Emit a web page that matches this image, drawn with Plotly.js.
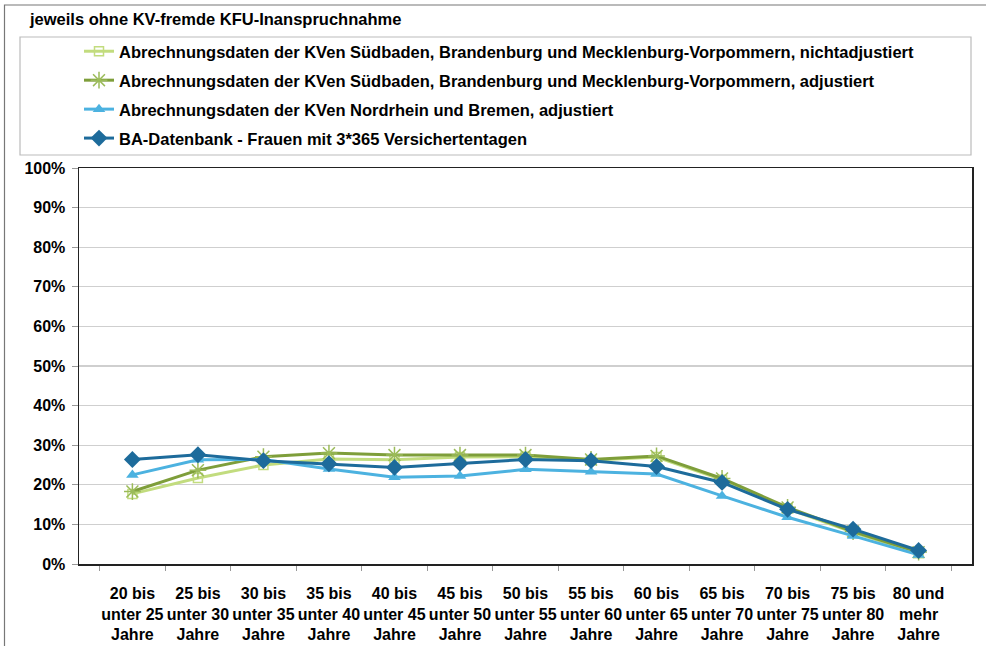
<!DOCTYPE html>
<html>
<head>
<meta charset="utf-8">
<script src="https://cdn.plot.ly/plotly-3.0.1.min.js"></script>
<style>html,body{margin:0;padding:0;background:#fff;}#chart{width:986px;height:646px;}</style>
</head>
<body>
<div id="chart"></div>
<script>
const categories = [
  "20 bis<br>unter 25<br>Jahre", "25 bis<br>unter 30<br>Jahre", "30 bis<br>unter 35<br>Jahre",
  "35 bis<br>unter 40<br>Jahre", "40 bis<br>unter 45<br>Jahre", "45 bis<br>unter 50<br>Jahre",
  "50 bis<br>unter 55<br>Jahre", "55 bis<br>unter 60<br>Jahre", "60 bis<br>unter 65<br>Jahre",
  "65 bis<br>unter 70<br>Jahre", "70 bis<br>unter 75<br>Jahre", "75 bis<br>unter 80<br>Jahre",
  "80 und<br>mehr<br>Jahre"
];
const nameNichtAdj = "Abrechnungsdaten der KVen Südbaden, Brandenburg und Mecklenburg-Vorpommern, nichtadjustiert";
const nameAdj = "Abrechnungsdaten der KVen Südbaden, Brandenburg und Mecklenburg-Vorpommern, adjustiert";
const nameNR = "Abrechnungsdaten der KVen Nordrhein und Bremen, adjustiert";
const nameBA = "BA-Datenbank - Frauen mit 3*365 Versichertentagen";

const valuesNichtAdj = [17.7, 21.7, 25.0, 26.5, 26.3, 27.0, 27.1, 26.2, 27.0, 21.3, 14.0, 8.0, 2.7];
const valuesAdj      = [18.3, 23.7, 27.1, 28.0, 27.5, 27.5, 27.5, 26.4, 27.3, 21.6, 14.3, 8.2, 3.0];
const valuesNR       = [22.5, 26.3, 26.4, 24.0, 21.9, 22.2, 23.9, 23.3, 22.7, 17.2, 11.8, 7.1, 2.3];
const valuesBA       = [26.4, 27.6, 26.1, 25.3, 24.4, 25.4, 26.4, 26.1, 24.6, 20.6, 13.8, 8.8, 3.4];

const pct = a => a.map(v => v / 100);

// plot area in pixels
const L = 79, R = 972, T = 168, B = 564, W = 986, H = 646;
const px = x => (x - L) / (R - L);
const py = y => (B - y) / (B - T);

const traces = [
  {name: nameNichtAdj, y: pct(valuesNichtAdj), color: "#c2dc7e",
   marker: {symbol: "square-open", size: 9, color: "#c2dc7e", line: {width: 1.5, color: "#c2dc7e"}}},
  {name: nameAdj, y: pct(valuesAdj), color: "#7e9e3a",
   marker: {symbol: "asterisk-open", size: 14, color: "#9bbb59", line: {width: 1.5, color: "#9bbb59"}}},
  {name: nameNR, y: pct(valuesNR), color: "#4cb2e0",
   marker: {symbol: "triangle-up", size: 11, color: "#4cb2e0"}},
  {name: nameBA, y: pct(valuesBA), color: "#1d6b9b",
   marker: {symbol: "diamond", size: 13, color: "#1d6b9b"}}
].map((t, i) => ({
  type: "scatter", mode: "lines+markers", x: categories, y: t.y, name: t.name,
  legendgroup: "g" + i,
  line: {color: t.color, width: 3},
  marker: t.marker,
  hoverinfo: "skip"
}));

const fontFam = "Liberation Sans, Arial, sans-serif";

const layout = {
  width: W, height: H,
  margin: {l: L, r: W - R, t: T, b: H - B, pad: 0},
  paper_bgcolor: "#fff", plot_bgcolor: "#fff",
  font: {family: fontFam, color: "#000", size: 16, weight: "bold"},
  title: {text: "jeweils ohne KV-fremde KFU-Inanspruchnahme", x: 30 / W, xanchor: "left",
          y: 1 - 19 / H, yanchor: "middle", font: {family: fontFam, size: 16.5, weight: "bold", color: "#000"}},
  showlegend: true,
  legend: {x: px(79), xanchor: "left", y: py(34), yanchor: "top", tracegroupgap: 4.5,
           bgcolor: "rgba(0,0,0,0)", borderwidth: 0,
           font: {family: fontFam, size: 16.5, weight: "bold", color: "#000"}},
  xaxis: {type: "category", tickson: "boundaries", ticks: "outside", ticklen: 5, tickcolor: "#999",
          tickangle: 0, showline: true, linecolor: "#222", linewidth: 1.5, mirror: true, showgrid: false,
          tickfont: {family: fontFam, size: 16, weight: "bold"}, ticklabelstandoff: 14, fixedrange: true},
  yaxis: {range: [0, 1], dtick: 0.1, tickformat: ".0%", ticks: "outside", ticklen: 6, tickcolor: "#999",
          showline: true, linecolor: "#222", linewidth: 1.5, mirror: true,
          showgrid: true, gridcolor: "#cfcfcf", gridwidth: 1.2, zeroline: false,
          tickfont: {family: fontFam, size: 16, weight: "bold"}, ticklabelstandoff: 3, fixedrange: true},
  shapes: [
    {type: "rect", xref: "paper", yref: "paper", x0: px(4.5), x1: px(992), y0: py(5), y1: py(652),
     line: {color: "#777", width: 1.2}, layer: "below"},
    {type: "rect", xref: "paper", yref: "paper", x0: px(20), x1: px(971), y0: py(37), y1: py(155),
     line: {color: "#bbb", width: 1.2}, layer: "below"}
  ]
};

Plotly.newPlot("chart", traces, layout, {displayModeBar: false, staticPlot: true});
</script>
</body>
</html>
